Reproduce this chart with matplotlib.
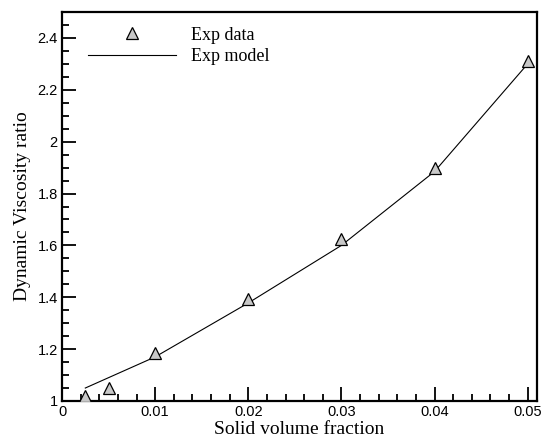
import matplotlib
matplotlib.use("Agg")
import matplotlib.pyplot as plt
from matplotlib.ticker import MultipleLocator, FuncFormatter

exp_x = [0.0025, 0.005, 0.01, 0.02, 0.03, 0.04, 0.05]
exp_y = [1.02, 1.05, 1.185, 1.394, 1.625, 1.897, 2.31]
model_x = [0.0025, 0.01, 0.02, 0.03, 0.04, 0.05]
model_y = [1.05, 1.17, 1.378, 1.60, 1.885, 2.30]

fig = plt.figure(figsize=(5.45, 4.37), dpi=100)
ax = fig.add_axes([0.1138, 0.0824, 0.8715, 0.8901])

ax.plot(model_x, model_y, color='black', lw=0.8, label='Exp model', zorder=2)
ax.plot(exp_x, exp_y, linestyle='none', marker='^', ms=8, mfc='#c8c8c8', mec='black',
        mew=0.9, label='Exp data', zorder=3)

ax.set_xlim(0, 0.051)
ax.set_ylim(1, 2.5)
ax.xaxis.set_major_locator(MultipleLocator(0.01))
ax.xaxis.set_minor_locator(MultipleLocator(0.002))
ax.yaxis.set_major_locator(MultipleLocator(0.2))
ax.yaxis.set_minor_locator(MultipleLocator(0.05))

def fmt(v, pos):
    return ('%.2f' % v).rstrip('0').rstrip('.')
ax.xaxis.set_major_formatter(FuncFormatter(fmt))
ax.yaxis.set_major_formatter(FuncFormatter(fmt))

ax.tick_params(which='both', direction='in', top=False, right=False, width=1.3,
               labelsize=10.5, pad=3)
ax.tick_params(which='major', length=10)
ax.tick_params(which='minor', length=5)
for lab in ax.get_xticklabels() + ax.get_yticklabels():
    lab.set_fontfamily('Liberation Sans')
for s in ax.spines.values():
    s.set_linewidth(1.6)

ax.set_xlabel('Solid volume fraction', family='Liberation Serif', fontsize=14, labelpad=1)
ax.set_ylabel('Dynamic Viscosity ratio', family='Liberation Serif', fontsize=14, labelpad=5)

h, l = ax.get_legend_handles_labels()
leg = ax.legend([h[1], h[0]], [l[1], l[0]], loc='upper left', bbox_to_anchor=(0.039, 0.981),
                frameon=False, prop={'family': 'Liberation Serif', 'size': 13},
                handlelength=4.9, handletextpad=0.83, numpoints=1, labelspacing=0.25,
                borderaxespad=0)

fig.savefig('out.png', dpi=100)
